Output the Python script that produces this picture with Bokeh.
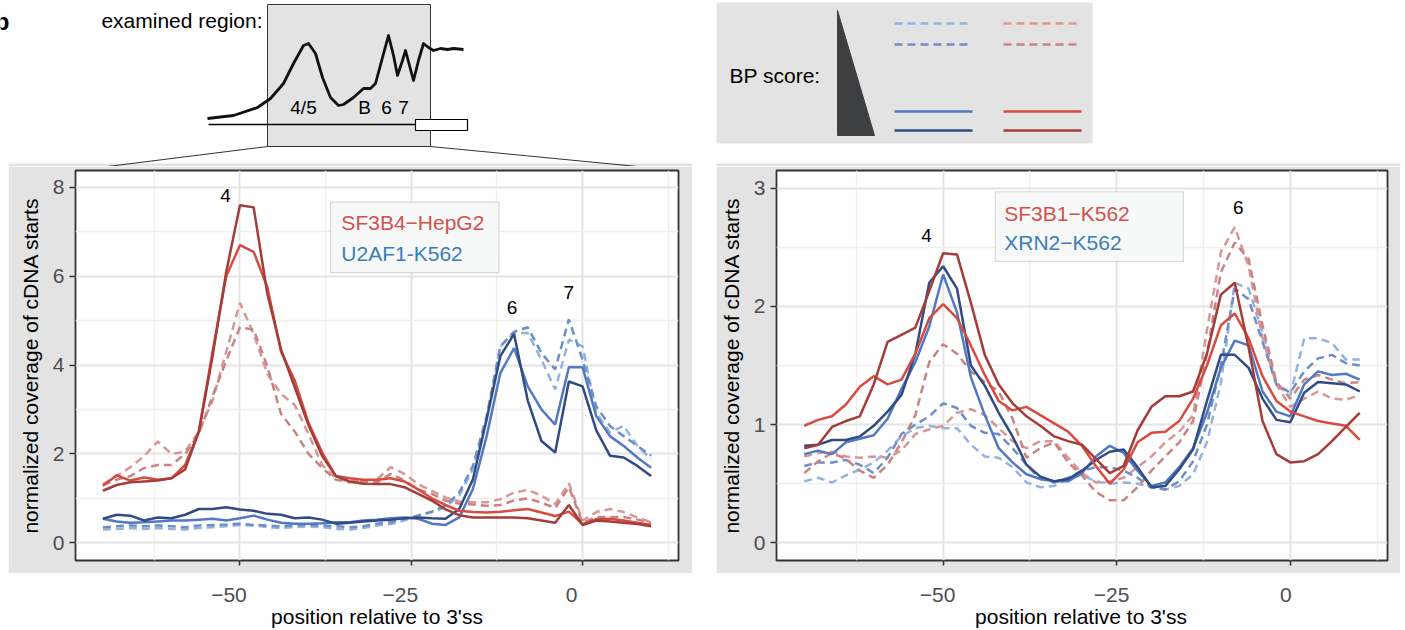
from bokeh.plotting import figure
from bokeh.models import Range1d, FixedTicker, Label, BoxAnnotation, Spacer, Arrow, CustomLabelingPolicy
from bokeh.layouts import column, row
from bokeh.embed import file_html
from bokeh.resources import INLINE

FONT = "Liberation Sans"
GRAY = "#e3e3e3"

# ---------------- data ----------------
positions = list(range(-70, 11, 2))

# left panel: SF3B4-HepG2 (red) and U2AF1-K562 (blue); 1 = lightest dashed ... 4 = darkest solid
sf3b4_1 = [1.32,1.5,1.7,1.95,2.28,2.0,2.05,2.5,3.2,4.3,5.4,4.7,3.8,3.35,3.1,2.45,1.75,1.45,1.38,1.4,1.43,1.7,1.55,1.32,1.17,1.02,0.93,0.91,0.91,0.98,1.13,1.19,1.06,0.87,1.34,0.5,0.69,0.76,0.69,0.57,0.46]
sf3b4_2 = [1.3,1.42,1.5,1.68,1.75,1.75,2.0,2.45,3.3,4.1,4.85,4.8,3.97,2.9,2.5,2.0,1.68,1.42,1.36,1.38,1.36,1.55,1.4,1.2,1.1,0.95,0.88,0.86,0.83,0.85,0.95,1.0,0.9,0.78,1.25,0.45,0.58,0.58,0.58,0.52,0.45]
sf3b4_3 = [1.28,1.52,1.40,1.47,1.42,1.45,1.75,2.5,4.3,6.0,6.7,6.55,5.75,4.3,3.65,2.7,2.03,1.5,1.45,1.42,1.42,1.45,1.38,1.2,1.0,0.85,0.72,0.69,0.68,0.7,0.73,0.76,0.68,0.6,0.7,0.42,0.53,0.54,0.5,0.45,0.4]
sf3b4_4 = [1.17,1.30,1.36,1.38,1.40,1.45,1.65,2.5,4.2,6.1,7.6,7.55,5.6,4.35,3.5,2.65,1.95,1.5,1.38,1.33,1.32,1.32,1.25,1.1,0.95,0.75,0.62,0.57,0.57,0.57,0.57,0.55,0.5,0.45,0.85,0.4,0.5,0.48,0.45,0.42,0.37]
u2af1_1 = [0.3,0.31,0.33,0.31,0.33,0.31,0.3,0.33,0.35,0.37,0.4,0.39,0.35,0.33,0.35,0.37,0.35,0.31,0.3,0.33,0.39,0.42,0.5,0.61,0.69,0.8,1.06,1.66,2.78,4.42,4.72,4.72,4.12,3.45,4.57,4.42,2.93,2.48,2.63,2.18,1.88]
u2af1_2 = [0.35,0.37,0.39,0.37,0.39,0.37,0.35,0.39,0.4,0.41,0.43,0.4,0.39,0.37,0.39,0.4,0.39,0.37,0.35,0.37,0.43,0.46,0.54,0.61,0.7,0.84,1.13,1.73,2.85,4.42,4.75,4.85,4.27,3.9,5.03,4.12,3.07,2.63,2.4,2.18,1.96]
u2af1_3 = [0.54,0.48,0.45,0.46,0.48,0.5,0.5,0.52,0.54,0.5,0.55,0.61,0.52,0.45,0.43,0.43,0.44,0.46,0.46,0.5,0.52,0.55,0.57,0.54,0.43,0.4,0.57,1.21,2.4,3.82,4.38,3.52,3.0,2.66,3.95,3.95,2.85,2.4,2.18,1.92,1.69]
u2af1_4 = [0.54,0.63,0.61,0.5,0.57,0.55,0.63,0.76,0.76,0.8,0.75,0.72,0.65,0.63,0.55,0.57,0.52,0.43,0.45,0.48,0.5,0.52,0.55,0.57,0.55,0.54,0.76,1.43,2.78,4.2,4.7,3.2,2.29,2.03,3.63,3.52,2.53,1.96,1.92,1.73,1.5]

# right panel: SF3B1-K562 (red) and XRN2-K562 (blue)
sf3b1_1 = [0.73,0.76,0.77,0.73,0.72,0.73,0.72,0.78,0.92,0.96,0.99,1.1,1.13,1.08,0.97,0.86,0.8,0.86,0.86,
           0.72,0.59,0.51,0.52,0.55,0.64,0.73,0.85,0.94,1.08,
           1.8,2.46,2.67,2.34,1.73,1.34,1.15,1.22,1.28,1.22,1.21,1.25]
sf3b1_2 = [0.59,0.69,0.76,0.71,0.61,0.55,0.66,0.85,1.08,1.53,1.68,1.6,1.45,1.36,1.28,1.05,0.72,0.8,0.85,
           0.68,0.57,0.43,0.36,0.36,0.47,0.61,0.73,0.85,1.03,
           1.6,2.29,2.54,2.4,1.84,1.36,1.22,1.38,1.42,1.38,1.35,1.36]
sf3b1_3 = [0.99,1.04,1.07,1.17,1.32,1.41,1.34,1.38,1.6,1.9,2.02,1.9,1.67,1.42,1.2,1.12,1.15,1.08,1.01,
           0.94,0.82,0.65,0.5,0.62,0.85,0.93,0.94,1.03,1.22,
           1.5,1.84,1.94,1.73,1.41,1.2,1.11,1.07,1.03,1.01,0.99,0.87]
sf3b1_4 = [0.8,0.83,0.98,1.03,1.07,1.34,1.7,1.76,1.82,2.13,2.45,2.44,2.03,1.59,1.34,1.18,1.07,0.99,0.9,
           0.86,0.83,0.71,0.59,0.65,0.95,1.15,1.24,1.24,1.28,
           1.6,2.1,2.2,1.65,1.03,0.75,0.68,0.69,0.75,0.86,0.98,1.1]
xrn2_1 = [0.52,0.55,0.51,0.57,0.62,0.68,0.78,0.9,0.97,0.99,0.97,0.97,0.83,0.73,0.72,0.64,0.51,0.47,0.48,
          0.55,0.57,0.52,0.5,0.51,0.5,0.47,0.45,0.48,0.58,
          0.85,1.35,2.2,2.15,1.78,1.34,1.25,1.73,1.73,1.69,1.55,1.55]
xrn2_2 = [0.65,0.68,0.68,0.7,0.66,0.59,0.72,0.92,1.0,1.07,1.18,1.14,0.99,0.93,0.92,0.8,0.66,0.54,0.51,
          0.55,0.61,0.64,0.64,0.61,0.55,0.47,0.45,0.52,0.69,
          1.0,1.5,2.15,2.06,1.7,1.34,1.27,1.45,1.56,1.59,1.52,1.5]
xrn2_3 = [0.75,0.78,0.75,0.85,0.88,0.91,1.05,1.3,1.53,1.83,2.27,1.95,1.4,1.08,0.8,0.68,0.58,0.54,0.52,
          0.52,0.59,0.73,0.82,0.76,0.61,0.48,0.51,0.64,0.8,
          1.1,1.48,1.71,1.67,1.28,1.11,1.07,1.34,1.45,1.42,1.43,1.38]
xrn2_4 = [0.82,0.83,0.87,0.87,0.9,0.99,1.11,1.25,1.6,2.2,2.34,2.15,1.5,1.33,1.1,0.9,0.66,0.56,0.52,
          0.54,0.61,0.7,0.77,0.79,0.64,0.47,0.48,0.62,0.79,
          1.2,1.59,1.59,1.48,1.22,1.04,1.02,1.27,1.36,1.35,1.34,1.28]

x_ticks = [-50, -25, 0]
x_minor = [-62.5, -37.5, -12.5, 12.5]
x_tick_texts = ["\u221250", "\u221225", "0"]
left_y_ticks = [0, 2, 4, 6, 8]
left_y_minor = [1, 3, 5, 7]
right_y_ticks = [0, 1, 2, 3]
right_y_minor = [0.5, 1.5, 2.5]

left_legend = ["SF3B4\u2212HepG2", "U2AF1-K562"]
right_legend = ["SF3B1\u2212K562", "XRN2\u2212K562"]
left_peaks = {"x": [-52.1, -10.3, -2.0], "y": [7.82, 5.29, 5.63], "t": ["4", "6", "7"]}
right_peaks = {"x": [-52.4, -7.5], "y": [2.6, 2.84], "t": ["4", "6"]}

# schematic of examined region (top inset)
inset_x = [207,233,257,270,283,293,303,308,315,322,330,338,343,353,363,370,375,382,388,393,397,402,405,409,413,418,423,428,433,440,447,453,463]
inset_y = [118,115,107,98,83,63,45,43,53,77,97,105,104,97,88,88,83,57,35,55,75,60,50,65,80,60,43,47,50,48,49,48,49]
inset_labels = ["4/5", "B", "6", "7"]
inset_label_x = [303, 364, 386, 403]

BLUE = ["#93b3df", "#6e8fc6", "#5078c3", "#324b82"]
RED = ["#d89797", "#c98383", "#d74b41", "#a53c37"]
DASH = ["8 5", "8 5", "solid", "solid"]
LW = 2.5

HIDE_LABELS = CustomLabelingPolicy(code="""
for (let i = 0; i < indices.size; i++) { indices.unset(i) }
return indices
""")


def make_panel(w, h, bl, br, bt, bb, y0, y1, yt, ym, reds, blues, legend, peaks, leg_box, leg_text_x, leg_text_y):
    p = figure(width=w, height=h, x_range=Range1d(-74, 14), y_range=Range1d(y0, y1),
               output_backend="svg", toolbar_location=None,
               min_border_left=bl, min_border_right=br, min_border_top=bt, min_border_bottom=bb)
    p.background_fill_color = "white"
    p.border_fill_color = GRAY
    p.outline_line_color = "#333333"
    p.outline_line_width = 1.8
    xt = FixedTicker(ticks=x_ticks, minor_ticks=x_minor)
    ytk = FixedTicker(ticks=yt, minor_ticks=ym)
    p.xaxis.ticker = xt
    p.yaxis.ticker = ytk
    p.xgrid.ticker = xt
    p.ygrid.ticker = ytk
    for g in (p.xgrid, p.ygrid):
        g.grid_line_color = "#e4e4e4"
        g.grid_line_width = 2
        g.minor_grid_line_color = "#eeeeee"
        g.minor_grid_line_width = 1.3
    for ax in (p.xaxis, p.yaxis):
        ax.axis_line_color = None
        ax.major_tick_line_color = "#333333"
        ax.major_tick_line_width = 1.6
        ax.major_tick_in = 0
        ax.minor_tick_line_color = None
    p.xaxis.major_tick_out = 5
    p.yaxis.major_tick_out = 6
    p.xaxis.major_label_policy = HIDE_LABELS
    p.xaxis.major_label_text_font_size = "0px"
    p.xaxis.major_label_standoff = 0
    p.yaxis.major_label_text_font_size = "21px"
    p.yaxis.major_label_text_font = FONT
    p.yaxis.major_label_text_color = "#4d4d4d"
    p.yaxis.major_label_standoff = 5
    p.yaxis.axis_label = "normalized coverage of cDNA starts"
    p.yaxis.axis_label_text_font = FONT
    p.yaxis.axis_label_text_font_size = "21px"
    p.yaxis.axis_label_text_font_style = "normal"
    p.yaxis.axis_label_text_color = "black"
    p.yaxis.axis_label_standoff = 8

    for i in (0, 1):
        p.line(positions, blues[i], line_color=BLUE[i], line_width=LW, line_dash=DASH[i])
        p.line(positions, reds[i], line_color=RED[i], line_width=LW, line_dash=DASH[i])
    for i in (2, 3):
        p.line(positions, blues[i], line_color=BLUE[i], line_width=LW)
    for i in (2, 3):
        p.line(positions, reds[i], line_color=RED[i], line_width=LW)

    l, r, t, b = leg_box
    p.add_layout(BoxAnnotation(left=l, right=r, top=t, bottom=b, fill_color="#f7f8f8",
                               fill_alpha=1, line_color="#8a8a8a", line_width=1.2))
    for txt, yy, col in zip(legend, leg_text_y, ["#d4504f", "#3c7dba"]):
        p.add_layout(Label(x=leg_text_x, y=yy, text=txt, text_font=FONT, text_font_size="21px",
                           text_color=col, text_baseline="middle", text_align="left"))
    for xx, yy, tt in zip(peaks["x"], peaks["y"], peaks["t"]):
        p.add_layout(Label(x=xx, y=yy, text=tt, text_font=FONT, text_font_size="19px",
                           text_color="black", text_baseline="middle", text_align="center"))
    return p


def make_strip(xr, w, bl, br, label_shift):
    s = figure(width=w, height=57, x_range=xr, y_range=Range1d(0, 1), output_backend="svg",
               toolbar_location=None, y_axis_location=None,
               min_border_left=bl, min_border_right=br, min_border_top=0, min_border_bottom=3)
    s.outline_line_color = None
    s.grid.visible = False
    s.background_fill_color = "white"
    s.border_fill_color = "white"
    ax = s.xaxis
    label_pos = [t + label_shift for t in x_ticks]
    ax.ticker = FixedTicker(ticks=label_pos)
    ax.major_label_overrides = dict(zip(label_pos, x_tick_texts))
    ax.axis_line_color = None
    ax.major_tick_line_color = None
    ax.minor_tick_line_color = None
    ax.major_tick_out = 0
    ax.major_tick_in = 0
    ax.major_label_standoff = 0
    ax.major_label_text_font = FONT
    ax.major_label_text_font_size = "21px"
    ax.major_label_text_color = "#4d4d4d"
    ax.axis_label = "position relative to 3'ss"
    ax.axis_label_text_font = FONT
    ax.axis_label_text_font_size = "21px"
    ax.axis_label_text_font_style = "normal"
    ax.axis_label_text_color = "black"
    ax.axis_label_standoff = 0
    return s


lp = make_panel(684, 407, 67, 14, 4, 11, -0.4, 8.38, left_y_ticks, left_y_minor,
                [sf3b4_1, sf3b4_2, sf3b4_3, sf3b4_4], [u2af1_1, u2af1_2, u2af1_3, u2af1_4],
                left_legend, left_peaks, (-36.8, -12.2, 7.67, 6.08), -35.2, [7.22, 6.52])
rp = make_panel(684, 407, 58, 13, 1, 13, -0.15, 3.15, right_y_ticks, right_y_minor,
                [sf3b1_1, sf3b1_2, sf3b1_3, sf3b1_4], [xrn2_1, xrn2_2, xrn2_3, xrn2_4],
                right_legend, right_peaks, (-42.5, -15.4, 2.97, 2.38), -41.2, [2.79, 2.54])

# continuation of the zoom lines into the panel's top margin
lp.add_layout(Arrow(end=None, x_start=-69.3, y_start=8.47, x_end=-74, y_end=8.38,
                    line_color="#333333", line_width=1))
lp.add_layout(Arrow(end=None, x_start=7.9, y_start=8.47, x_end=14, y_end=8.38,
                    line_color="#333333", line_width=1))

ls = make_strip(lp.x_range, 684, 67, 14, -1.6)
rs = make_strip(rp.x_range, 684, 58, 13, -0.6)

# ---- top-left: examined region schematic ----
tl = figure(width=700, height=166, x_range=Range1d(0, 700), y_range=Range1d(166, 0),
            output_backend="svg", toolbar_location=None, x_axis_location=None, y_axis_location=None,
            min_border=0, min_border_left=0, min_border_right=0, min_border_top=0, min_border_bottom=0)
tl.outline_line_color = None
tl.grid.visible = False
tl.background_fill_color = "white"
tl.border_fill_color = "white"
tl.quad(left=[8], right=[692], top=[163], bottom=[166], fill_color=GRAY, line_color=None)
tl.quad(left=[267], right=[430], top=[4], bottom=[146], fill_color=GRAY, line_color="#333333", line_width=1)
tl.segment(x0=[208], y0=[124], x1=[415], y1=[124], line_color="black", line_width=1.3)
tl.quad(left=[415], right=[467], top=[119], bottom=[130], fill_color="white", line_color="black", line_width=1.2)
tl.line(inset_x, inset_y, line_color="#111111", line_width=2.8, line_join="round")
tl.segment(x0=[267, 430], y0=[146, 146], x1=[107, 637], y1=[166, 166], line_color="#333333", line_width=1)
for t, xx in zip(inset_labels, inset_label_x):
    tl.add_layout(Label(x=xx, y=107, text=t, text_font=FONT, text_font_size="19px",
                        text_align="center", text_baseline="middle", text_color="black"))
tl.add_layout(Label(x=262, y=20, text="examined region:", text_font=FONT, text_font_size="21px",
                    text_align="right", text_baseline="middle", text_color="black"))
tl.add_layout(Label(x=9, y=21, text="b", text_font=FONT, text_font_size="24px", text_font_style="bold",
                    text_align="right", text_baseline="middle", text_color="black"))

# ---- top-right: BP score key ----
tr = figure(width=705, height=166, x_range=Range1d(700, 1405), y_range=Range1d(166, 0),
            output_backend="svg", toolbar_location=None, x_axis_location=None, y_axis_location=None,
            min_border=0, min_border_left=0, min_border_right=0, min_border_top=0, min_border_bottom=0)
tr.outline_line_color = None
tr.grid.visible = False
tr.background_fill_color = "white"
tr.border_fill_color = "white"
tr.quad(left=[716], right=[1400], top=[163], bottom=[166], fill_color=GRAY, line_color=None)
tr.quad(left=[716], right=[1092], top=[2], bottom=[143], fill_color=GRAY, line_color=None)
tr.patch([837, 837, 874], [10, 135, 135], fill_color="#3e3f41", line_color="#3e3f41", line_width=1)
tr.add_layout(Label(x=729, y=75, text="BP score:", text_font=FONT, text_font_size="21px",
                    text_align="left", text_baseline="middle", text_color="black"))
key_y = [23, 44, 111, 130]
for i in range(4):
    tr.segment(x0=[894], y0=[key_y[i]], x1=[972], y1=[key_y[i]], line_color=BLUE[i], line_width=2.6, line_dash=DASH[i])
    tr.segment(x0=[1003], y0=[key_y[i]], x1=[1081], y1=[key_y[i]], line_color=RED[i], line_width=2.6, line_dash=DASH[i])

top = row(tl, tr, spacing=0)
mid = row(Spacer(width=8, height=407), lp, Spacer(width=24, height=407), rp, Spacer(width=5, height=407), spacing=0)
bot = row(Spacer(width=8, height=57), ls, Spacer(width=24, height=57), rs, Spacer(width=5, height=57), spacing=0)
layout = column(top, mid, bot, spacing=0)

open("out.html", "w").write(file_html(layout, INLINE))
